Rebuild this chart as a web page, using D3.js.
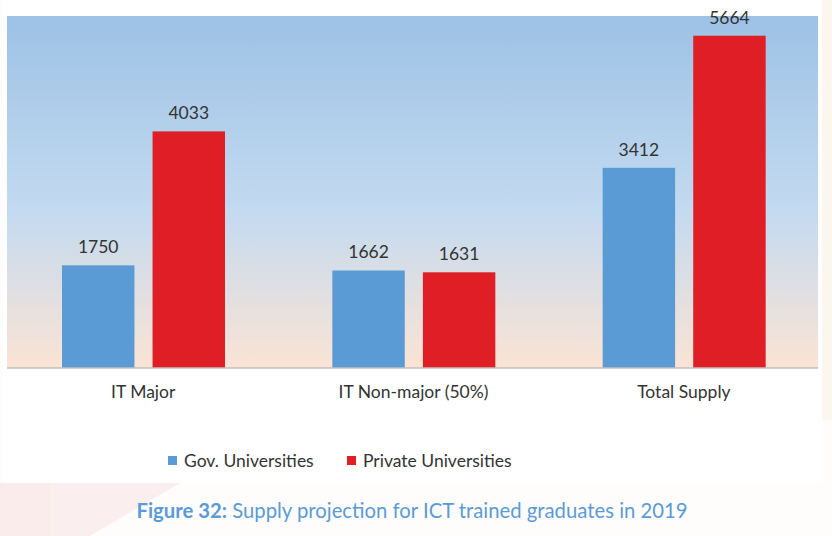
<!DOCTYPE html>
<html>
<head>
<meta charset="utf-8">
<script src="https://cdn.jsdelivr.net/npm/d3@7"></script>
<style>
  html, body { margin: 0; padding: 0; background: #ffffff; }
  svg { display: block; }
  text { font-family: Lato, "Open Sans", sans-serif; }
</style>
</head>
<body>
<svg id="chart"></svg>
<script>
const categories = ["IT Major", "IT Non-major (50%)", "Total Supply"];
const series = ["Gov. Universities", "Private Universities"];
const govValues = [1750, 1662, 3412];
const privateValues = [4033, 1631, 5664];
const colors = ["#5b9bd5", "#e01e26"];
const caption = ["Figure 32:", " Supply projection for ICT trained graduates in 2019"];

const W = 832, H = 536;
const fontSize = 17.5;
const textColor = "#333333";
const svg = d3.select("#chart").attr("width", W).attr("height", H);

// page backdrop
svg.append("rect").attr("width", W).attr("height", H).attr("fill", "#fffdfb");
svg.append("rect").attr("x", 820).attr("y", 0).attr("width", 12).attr("height", 420).attr("fill", "#fbf6ee");
svg.append("rect").attr("x", 0).attr("y", 483).attr("width", 50).attr("height", 53).attr("fill", "#f9ecea");
svg.append("path").attr("d", "M50,483 L180,483 L90,536 L50,536 Z").attr("fill", "#fbeeee");

// white card
svg.append("rect").attr("x", 3).attr("y", 0).attr("width", 819).attr("height", 483).attr("fill", "#ffffff");

const plot = { left: 7, right: 818, top: 16, bottom: 368 };

const defs = svg.append("defs");
const grad = defs.append("linearGradient").attr("id", "bg").attr("x1", 0).attr("y1", 0).attr("x2", 0).attr("y2", 1);
grad.append("stop").attr("offset", "0%").attr("stop-color", "#9dc2e5");
grad.append("stop").attr("offset", "55%").attr("stop-color", "#c3daf0");
grad.append("stop").attr("offset", "100%").attr("stop-color", "#fbe4d5");

svg.append("rect")
  .attr("x", plot.left).attr("y", plot.top)
  .attr("width", plot.right - plot.left).attr("height", plot.bottom - plot.top)
  .attr("fill", "url(#bg)");

const x0 = d3.scaleBand().domain(categories).range([plot.left + 1, plot.right + 1]);
const x1 = d3.scaleBand().domain(series).range([54, 217]).paddingInner(0.2);
const y = d3.scaleLinear().domain([0, 6000]).range([plot.bottom, plot.top]);

const rows = categories.map((c, i) => ({
  category: c,
  values: [
    { key: series[0], value: govValues[i] },
    { key: series[1], value: privateValues[i] }
  ]
}));

const groups = svg.selectAll(".grp").data(rows).enter().append("g")
  .attr("transform", d => `translate(${x0(d.category)},0)`);

groups.selectAll("rect").data(d => d.values).enter().append("rect")
  .attr("x", d => x1(d.key))
  .attr("y", d => y(d.value))
  .attr("width", x1.bandwidth())
  .attr("height", d => y(0) - y(d.value))
  .attr("fill", (d, i) => colors[i]);

groups.selectAll(".lbl").data(d => d.values).enter().append("text")
  .attr("x", d => x1(d.key) + x1.bandwidth() / 2)
  .attr("y", d => y(d.value) - 12)
  .attr("text-anchor", "middle")
  .attr("font-size", fontSize)
  .attr("fill", textColor)
  .text(d => d.value);

// x axis
const xAxis = svg.append("g")
  .attr("transform", `translate(0,${plot.bottom})`)
  .call(d3.axisBottom(x0).tickSize(0).tickPadding(18));
xAxis.select(".domain").attr("stroke", "#bfbfbf").attr("stroke-width", 1.5)
  .attr("d", `M${plot.left},0H${plot.right}`);
xAxis.selectAll("text").attr("font-size", fontSize).attr("fill", textColor)
  .style("font-family", "Lato, 'Open Sans', sans-serif");

// legend
const legend = svg.append("g").attr("transform", "translate(168,460.5)");
const legX = [0, 179];
series.forEach((s, i) => {
  const g = legend.append("g").attr("transform", `translate(${legX[i]},0)`);
  g.append("rect").attr("x", 0).attr("y", -4.5).attr("width", 9).attr("height", 9).attr("fill", colors[i]);
  g.append("text").attr("x", 16).attr("y", 0).attr("dy", "0.35em")
    .attr("font-size", fontSize).attr("fill", textColor).text(s);
});

// caption
const cap = svg.append("text").attr("x", 412).attr("y", 518).attr("text-anchor", "middle")
  .attr("font-size", 20.3).attr("fill", "#5b9bd5");
cap.append("tspan").attr("font-weight", "bold").text(caption[0]);
cap.append("tspan").text(caption[1]);
</script>
</body>
</html>
